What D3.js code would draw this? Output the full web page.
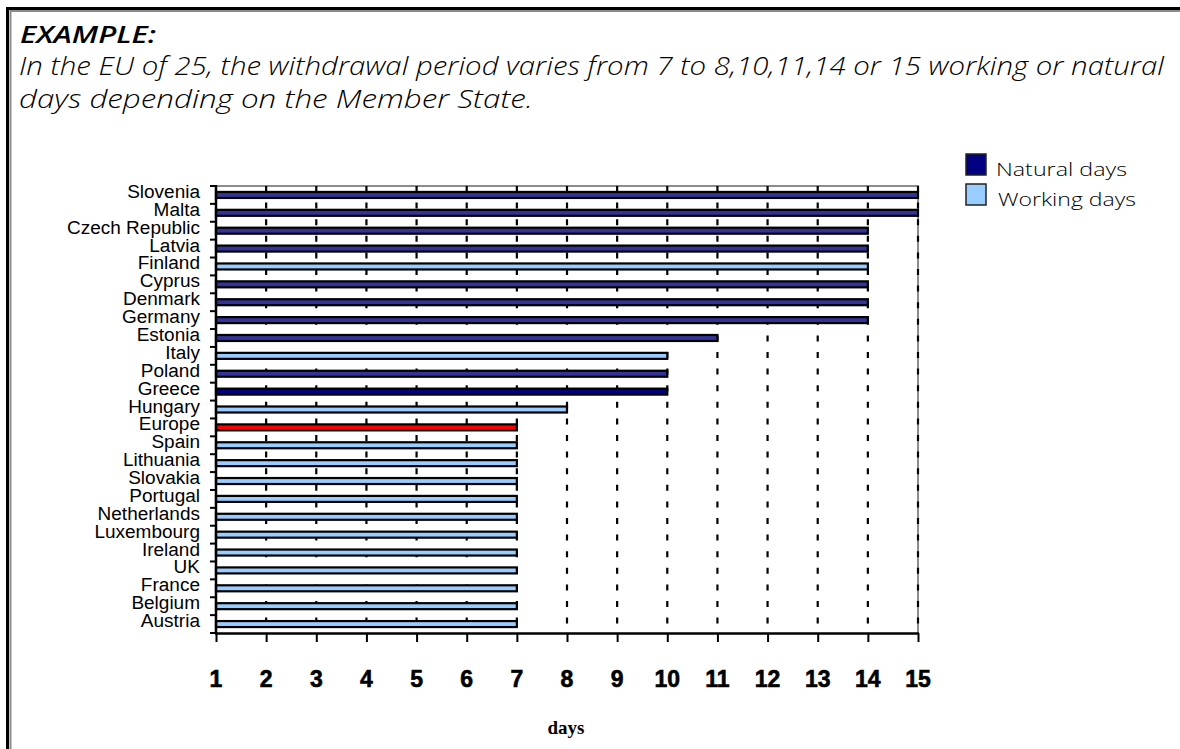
<!DOCTYPE html>
<html>
<head>
<meta charset="utf-8">
<script src="https://cdn.jsdelivr.net/npm/d3@7"></script>
<style>
  html, body { margin: 0; padding: 0; background: #fff; }
  svg { display: block; }
</style>
</head>
<body>
<svg id="chart" width="1180" height="749"></svg>
<script>
// Withdrawal period per Member State (days)
const categories = [
  "Slovenia", "Malta", "Czech Republic", "Latvia", "Finland", "Cyprus",
  "Denmark", "Germany", "Estonia", "Italy", "Poland", "Greece", "Hungary",
  "Europe", "Spain", "Lithuania", "Slovakia", "Portugal", "Netherlands",
  "Luxembourg", "Ireland", "UK", "France", "Belgium", "Austria"
];
const values = [
  15, 15, 14, 14, 14, 14,
  14, 14, 11, 10, 10, 10, 8,
  7, 7, 7, 7, 7, 7,
  7, 7, 7, 7, 7, 7
];
// kind of days counted: natural, natural (dark shade), working, EU reference
const kinds = [
  "natural", "natural", "natural", "natural", "working", "natural",
  "natural", "natural", "natural", "working", "natural", "naturalDark", "working",
  "europe", "working", "working", "working", "working", "working",
  "working", "working", "working", "working", "working", "working"
];
const xTicks = [1, 2, 3, 4, 5, 6, 7, 8, 9, 10, 11, 12, 13, 14, 15];
const legendLabels = ["Natural days", "Working days"];
const legendKinds = ["naturalDark", "working"];

const fills = {
  natural: "#333399",
  naturalDark: "#000080",
  working: "#99ccff",
  europe: "#ff0000"
};

const svg = d3.select("#chart");

// outer frame: dark rule with a grey inner rule
svg.append("path")
  .attr("d", "M7.5,749 V8.5 H1180")
  .attr("fill", "none").attr("stroke", "#000").attr("stroke-width", 3);
svg.append("path")
  .attr("d", "M10.5,749 V11 H1180")
  .attr("fill", "none").attr("stroke", "#8c8c8c").attr("stroke-width", 2);

// heading
const titleFont = "'Open Sans', 'Lato', 'DejaVu Sans', sans-serif";
svg.append("text")
  .attr("x", 20).attr("y", 43)
  .attr("font-family", titleFont).attr("font-style", "italic").attr("font-weight", 600)
  .attr("font-size", 23).attr("textLength", 136).attr("lengthAdjust", "spacingAndGlyphs")
  .text("EXAMPLE:");
svg.append("text")
  .attr("x", 19).attr("y", 75)
  .attr("font-family", titleFont).attr("font-style", "italic").attr("font-weight", 300)
  .attr("font-size", 25).attr("textLength", 1145).attr("lengthAdjust", "spacingAndGlyphs")
  .text("In the EU of 25, the withdrawal period varies from 7 to 8,10,11,14 or 15 working or natural");
svg.append("text")
  .attr("x", 19).attr("y", 108)
  .attr("font-family", titleFont).attr("font-style", "italic").attr("font-weight", 300)
  .attr("font-size", 25).attr("textLength", 514).attr("lengthAdjust", "spacingAndGlyphs")
  .text("days depending on the Member State.");

// plot area
const x0 = 216, x1 = 918, y0 = 186, y1 = 633;
const x = d3.scaleLinear().domain([1, 15]).range([x0, x1]);
const y = d3.scaleBand().domain(categories).range([y0, y1]).padding(0);

const plot = svg.append("g");

// grey frame at top and right
plot.append("path")
  .attr("d", `M${x0},${y0} H${x1} V${y1}`)
  .attr("fill", "none").attr("stroke", "#8c8c8c").attr("stroke-width", 2);

// dashed vertical gridlines
plot.selectAll("line.grid")
  .data(xTicks.filter(d => d > 1))
  .join("line")
  .attr("class", "grid")
  .attr("x1", d => x(d)).attr("x2", d => x(d))
  .attr("y1", y0).attr("y2", y1)
  .attr("stroke", "#000").attr("stroke-width", 2.2)
  .attr("stroke-dasharray", "6,10.6");

// bars
const barH = 6;
plot.selectAll("rect.bar")
  .data(categories)
  .join("rect")
  .attr("class", "bar")
  .attr("x", x(1))
  .attr("y", d => y(d) + y.bandwidth() / 2 - barH / 2)
  .attr("width", (d, i) => x(values[i]) - x(1))
  .attr("height", barH)
  .attr("fill", (d, i) => fills[kinds[i]])
  .attr("stroke", "#000").attr("stroke-width", 2.2);

// category axis
plot.append("line")
  .attr("x1", x0).attr("x2", x0).attr("y1", y0 - 1).attr("y2", y1 + 1)
  .attr("stroke", "#000").attr("stroke-width", 2.5);
// tick marks at band boundaries
const boundaries = categories.map(c => y(c)).concat([y1]);
plot.selectAll("line.ytick")
  .data(boundaries)
  .join("line")
  .attr("class", "ytick")
  .attr("x1", x0 - 6).attr("x2", x0)
  .attr("y1", d => d).attr("y2", d => d)
  .attr("stroke", "#000").attr("stroke-width", 2);
const ylabs = plot.selectAll("text.ylab")
  .data(categories)
  .join("text")
  .attr("class", "ylab")
  .attr("x", 200)
  .attr("y", d => y(d) + y.bandwidth() / 2 + 3)
  .attr("text-anchor", "end")
  .attr("font-family", "'Liberation Sans', Arial, sans-serif")
  .attr("font-size", 18)
  .text(d => d);
// labels are set slightly wide
ylabs.each(function () {
  const w = this.getComputedTextLength();
  d3.select(this).attr("textLength", w * 1.055).attr("lengthAdjust", "spacingAndGlyphs");
});

// value axis
const xAxis = d3.axisBottom(x).tickValues(xTicks).tickSize(9).tickPadding(0).tickFormat("");
const gx = plot.append("g").attr("transform", `translate(0,${y1})`).call(xAxis);
gx.select(".domain").attr("stroke-width", 2.5).attr("d", `M${x0 - 1},0.5H${x1 + 1}`);
gx.selectAll(".tick line").attr("stroke-width", 2);
plot.selectAll("text.xlab")
  .data(xTicks)
  .join("text")
  .attr("class", "xlab")
  .attr("x", d => x(d))
  .attr("y", 687)
  .attr("text-anchor", "middle")
  .attr("font-family", "'Liberation Sans', Arial, sans-serif")
  .attr("font-weight", "bold")
  .attr("font-size", 23)
  .attr("stroke", "#000").attr("stroke-width", 0.6)
  .text(d => d);

svg.append("text")
  .attr("x", 566).attr("y", 734)
  .attr("text-anchor", "middle")
  .attr("font-family", "'Liberation Serif', 'Times New Roman', serif")
  .attr("font-weight", "bold")
  .attr("font-size", 19)
  .text("days");

// legend
const legend = svg.append("g");
const legendY = d3.scaleBand().domain(legendLabels).range([152, 212]).padding(0);
legend.selectAll("rect")
  .data(legendLabels)
  .join("rect")
  .attr("x", 966)
  .attr("y", d => legendY(d) + 2)
  .attr("width", 20).attr("height", 21)
  .attr("fill", (d, i) => fills[legendKinds[i]])
  .attr("stroke", "#222").attr("stroke-width", 1.5);
legend.selectAll("text")
  .data(legendLabels)
  .join("text")
  .attr("x", (d, i) => 996 + i * 2)
  .attr("y", (d, i) => legendY(d) + 24)
  .attr("font-family", "'Open Sans', 'DejaVu Sans', sans-serif")
  .attr("font-weight", 300)
  .attr("font-size", 19)
  .attr("textLength", (d, i) => i === 0 ? 131 : 138)
  .attr("lengthAdjust", "spacingAndGlyphs")
  .text(d => d);
</script>
</body>
</html>
